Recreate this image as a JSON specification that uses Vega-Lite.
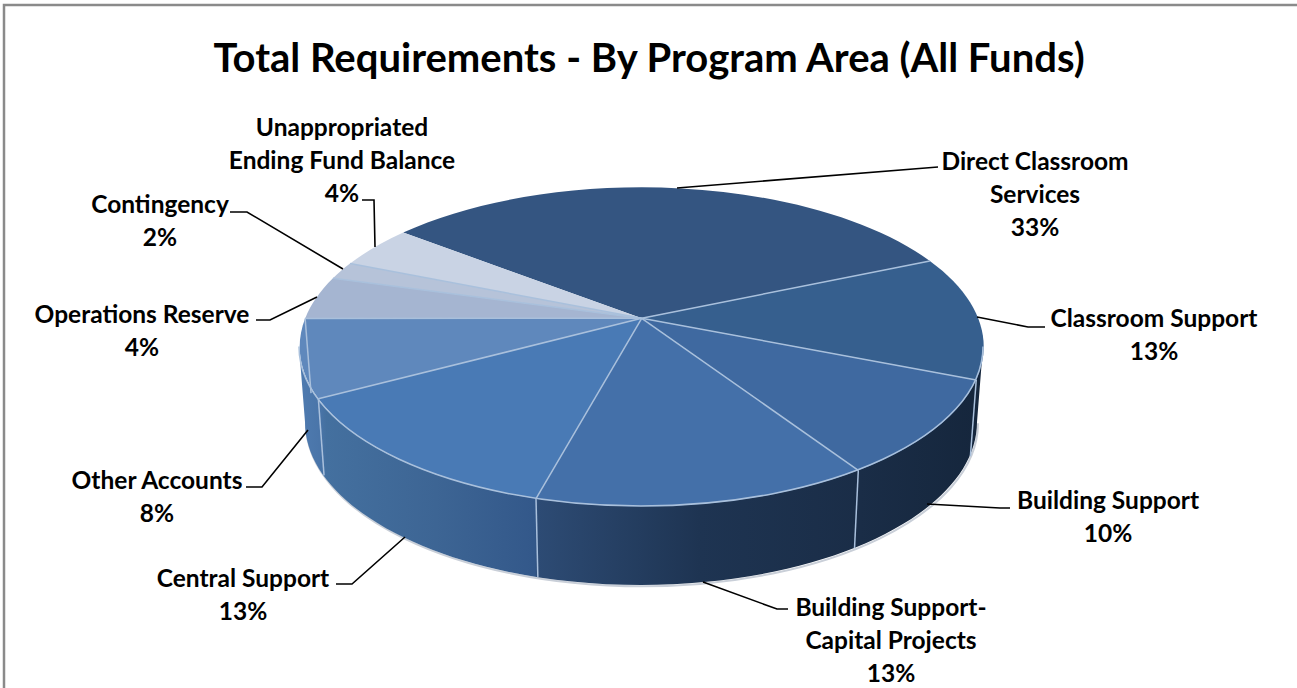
{
 "$schema":"https://vega.github.io/schema/vega-lite/v6.json",
 "width":1300,"height":700,
 "autosize":"none",
 "padding":{"left":4,"top":5,"right":0,"bottom":0},
 "background":"white",
 "config":{"view":{"stroke":"#8a8a8a","strokeWidth":2.5}},
 "title":{"text":"Total Requirements - By Program Area (All Funds)","font":"Lato","fontSize":40,"fontWeight":"bold","color":"#000000","anchor":"middle","offset":-75,"dx":-5},
 "params":[
  {"name":"startDeg","value":-51.9},
  {"name":"k","value":0.179},
  {"name":"R","value":336.5},
  {"name":"Rv","value":154.4},
  {"name":"Rb","value":330.6},
  {"name":"Rvb","value":157.8},
  {"name":"depth","value":74.7}
 ],
 "data":{"values":[
  {"category":"Direct Classroom Services","share":32.9},
  {"category":"Classroom Support","share":12.6},
  {"category":"Building Support","share":9.7},
  {"category":"Building Support-Capital Projects","share":13.4},
  {"category":"Central Support","share":12.9},
  {"category":"Other Accounts","share":7.9},
  {"category":"Operations Reserve","share":4.4},
  {"category":"Contingency","share":1.8},
  {"category":"Unappropriated Ending Fund Balance","share":4.4}
 ]},
 "transform":[
  {"window":[{"op":"sum","field":"share","as":"cum"}]},
  {"calculate":"(startDeg+3.6*(datum.cum-datum.share))*PI/180","as":"a0"},
  {"calculate":"(startDeg+3.6*datum.cum)*PI/180","as":"a1"},
  {"calculate":"round(100*R*sin(datum.a0)/(1+k*cos(datum.a0)))/100","as":"x0"},
  {"calculate":"round(-100*Rv*cos(datum.a0)/(1+k*cos(datum.a0)))/100","as":"y0"},
  {"calculate":"round(100*R*sin(datum.a1)/(1+k*cos(datum.a1)))/100","as":"x1"},
  {"calculate":"round(-100*Rv*cos(datum.a1)/(1+k*cos(datum.a1)))/100","as":"y1"},
  {"calculate":"round(100*Rb*sin(datum.a1)/(1+k*cos(datum.a1)))/100","as":"bx1"},
  {"calculate":"round(100*(depth-Rvb*cos(datum.a1)/(1+k*cos(datum.a1))))/100","as":"by1"},
  {"calculate":"'M0,0L'+datum.x0+','+datum.y0+'A342,159.5,0,0,1,'+datum.x1+','+datum.y1+'Z'","as":"wedge"},
  {"calculate":"'M0,0L'+datum.x1+','+datum.y1","as":"spoke"},
  {"calculate":"'M'+datum.x1+','+datum.y1+'L'+datum.bx1+','+datum.by1","as":"divider"},
  {"calculate":"datum.category==='Direct Classroom Services'?'Direct Classroom\\nServices':datum.category==='Building Support-Capital Projects'?'Building Support-\\nCapital Projects':datum.category==='Unappropriated Ending Fund Balance'?'Unappropriated\\nEnding Fund Balance':datum.category","as":"wrapped"},
  {"calculate":"datum.wrapped+'\\n'+format(datum.share/100,'.0%')","as":"label"},
  {"calculate":"{'Direct Classroom Services':1035,'Classroom Support':1154,'Building Support':1108,'Building Support-Capital Projects':891,'Central Support':243,'Other Accounts':157,'Operations Reserve':142,'Contingency':160,'Unappropriated Ending Fund Balance':342}[datum.category]","as":"labelX"},
  {"calculate":"{'Direct Classroom Services':161,'Classroom Support':318,'Building Support':500,'Building Support-Capital Projects':607,'Central Support':578,'Other Accounts':480,'Operations Reserve':314,'Contingency':204,'Unappropriated Ending Fund Balance':127}[datum.category]","as":"labelY"},
  {"calculate":"{'Direct Classroom Services':'M677,188L938,167','Classroom Support':'M977,317L1028,327L1045,327','Building Support':'M927,504L1000,508L1010,508','Building Support-Capital Projects':'M703,582L777,609L788,609','Central Support':'M405,537L352,584L336,584','Other Accounts':'M308,430L262,487L246,487','Operations Reserve':'M317,297L270,320L256,320','Contingency':'M343,269L247,212L230,212','Unappropriated Ending Fund Balance':'M375,247L374,200L362,200'}[datum.category]","as":"leader"}
 ],
 "layer":[
  {"data":{"values":[{"part":"shadow"}]},"transform":[],
   "mark":{"type":"point","filled":false,"size":4,"opacity":1,"fill":"transparent","stroke":"#c9cfd8","strokeWidth":2,
     "shape":"M336.3,105A336,163,0,0,1,-335.7,105"},
   "encoding":{"x":{"datum":641.7,"type":"quantitative","scale":{"domain":[4,1304],"nice":false,"zero":false},"axis":null},
               "y":{"datum":318.3,"type":"quantitative","scale":{"domain":[705,5],"nice":false,"zero":false},"axis":null}}},
  {"data":{"values":[{"part":"side"}]},"transform":[],
   "mark":{"type":"point","filled":true,"size":4,"opacity":1,
     "shape":"M341.3,28.2L335.3,103.7A336,163,0,0,1,-336.7,103.7L-342.7,28.2A342,159.5,0,0,0,341.3,28.2Z",
     "fill":{"gradient":"linear","x1":0,"y1":0,"x2":1,"y2":0,"stops":[
       {"offset":0,"color":"#4f7bb0"},{"offset":0.03,"color":"#4a75a9"},{"offset":0.04,"color":"#44709f"},
       {"offset":0.2,"color":"#3d6594"},{"offset":0.345,"color":"#33588a"},{"offset":0.35,"color":"#2d4b74"},
       {"offset":0.586,"color":"#1e3452"},{"offset":0.82,"color":"#1a2d47"},{"offset":1,"color":"#15263c"}]}},
   "encoding":{"x":{"datum":641.7,"type":"quantitative"},"y":{"datum":318.3,"type":"quantitative"}}},
  {"mark":{"type":"point","filled":true,"size":4,"opacity":1},
   "encoding":{"x":{"datum":641.7,"type":"quantitative"},"y":{"datum":318.3,"type":"quantitative"},
     "shape":{"field":"wedge","type":"nominal","scale":null,"legend":null},
     "color":{"field":"category","type":"nominal","legend":null,"sort":null,
       "scale":{"domain":["Direct Classroom Services","Classroom Support","Building Support","Building Support-Capital Projects","Central Support","Other Accounts","Operations Reserve","Contingency","Unappropriated Ending Fund Balance"],
                "range":["#345581","#365f8e","#3f69a0","#4470a9","#497ab5","#5f88bc","#a5b5d1","#b6c3d9","#c9d3e4"]}}}},
  {"data":{"values":[{"part":"frontEdge"}]},"transform":[],
   "mark":{"type":"point","filled":false,"size":4,"opacity":1,"fill":"transparent","stroke":"#a9c0dc","strokeWidth":1.5,
     "shape":"M341.3,28.2A342,159.5,0,0,1,-342.7,28.2"},
   "encoding":{"x":{"datum":641.7,"type":"quantitative"},"y":{"datum":318.3,"type":"quantitative"}}},
  {"transform":[{"filter":"datum.category!=='Unappropriated Ending Fund Balance'"}],
   "mark":{"type":"point","filled":false,"size":4,"opacity":1,"fill":"transparent","stroke":"#a9c0dc","strokeWidth":1.5},
   "encoding":{"x":{"datum":641.7,"type":"quantitative"},"y":{"datum":318.3,"type":"quantitative"},
     "shape":{"field":"spoke","type":"nominal","scale":null,"legend":null}}},
  {"transform":[{"filter":"datum.a1>PI/2&&datum.a1<3*PI/2"}],
   "mark":{"type":"point","filled":false,"size":4,"opacity":1,"fill":"transparent","stroke":"#a9c0dc","strokeWidth":1.5},
   "encoding":{"x":{"datum":641.7,"type":"quantitative"},"y":{"datum":318.3,"type":"quantitative"},
     "shape":{"field":"divider","type":"nominal","scale":null,"legend":null}}},
  {"mark":{"type":"point","filled":false,"size":4,"opacity":1,"fill":"transparent","stroke":"#000000","strokeWidth":1.6},
   "encoding":{"x":{"datum":0,"type":"quantitative"},"y":{"datum":0,"type":"quantitative"},
     "shape":{"field":"leader","type":"nominal","scale":null,"legend":null}}},
  {"mark":{"type":"text","font":"Lato","fontSize":24.5,"fontWeight":"bold","color":"#000000","align":"center","baseline":"middle","lineBreak":"\n","lineHeight":33,"dy":1.5},
   "encoding":{"x":{"field":"labelX","type":"quantitative"},"y":{"field":"labelY","type":"quantitative"},"text":{"field":"label","type":"nominal"}}}
 ]
}
